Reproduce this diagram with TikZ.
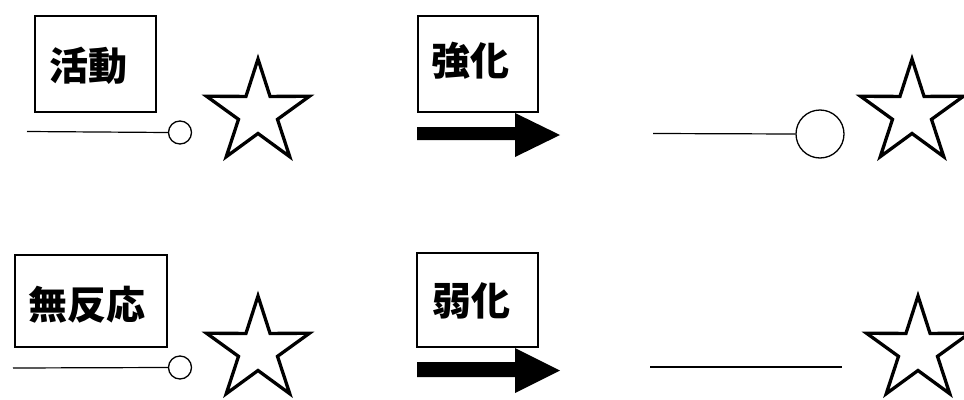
\documentclass[tikz,border=0pt]{standalone}
\usepackage{fontspec}
\newfontfamily\jp{Noto Sans CJK JP}
\begin{document}
\begin{tikzpicture}[x=1pt,y=-1pt,
  boxstyle/.style={draw=black,line width=1.5pt,fill=white,inner sep=0pt},
  lbl/.style={font=\jp\bfseries\fontsize{39}{39}\selectfont,inner sep=0pt},
  thin/.style={line width=1.2pt},
  ring/.style={draw,circle,line width=1.3pt,inner sep=0pt,fill=white},
  starline/.style={line width=3.3pt,line join=miter},
  bigarrow/.style={fill=black,draw=none}]
\clip (0,0) rectangle (964,399);
\fill[white] (0,0) rectangle (964,399);
\newcommand{\drawstar}[1]{%
  \draw[starline] ([shift={(270:54)}]#1)
  -- ([shift={(234:20.5)}]#1) -- ([shift={(198:54)}]#1)
  -- ([shift={(162:20.5)}]#1) -- ([shift={(126:54)}]#1)
  -- ([shift={(90:20.5)}]#1) -- ([shift={(54:54)}]#1)
  -- ([shift={(18:20.5)}]#1) -- ([shift={(342:54)}]#1)
  -- ([shift={(306:20.5)}]#1) -- cycle;}
% box 1
\node[boxstyle,minimum width=121pt,minimum height=96pt] (b1) at (95.5,64) {};
\node[lbl] (t1) at (88,66) {活動};
\coordinate (l1s) at (27,131.5);
\node[ring,minimum size=23pt] (c1) at (180,132.5) {};
\draw[thin] (l1s) -- (c1.west);
\coordinate (s1) at (258,113);
\drawstar{s1}
% box 2
\node[boxstyle,minimum width=120pt,minimum height=96pt] (b2) at (478,64) {};
\node[lbl] (t2) at (470,61) {強化};
\coordinate (a1e) at (560,135);
\fill[bigarrow] (417,127) -- (515,127) -- (515,113) -- (a1e) -- (515,157) -- (515,140) -- (417,140) -- cycle;
% top right
\coordinate (l2s) at (653,133.5);
\node[ring,minimum size=48pt] (c2) at (820,134) {};
\draw[thin] (l2s) -- (c2.west);
\coordinate (s2) at (912,113);
\drawstar{s2}
% box 3
\node[boxstyle,minimum width=152pt,minimum height=92pt] (b3) at (91,301) {};
\node[lbl] (t3) at (86.5,305) {無反応};
\coordinate (l3s) at (13,368);
\node[ring,minimum size=23pt] (c3) at (180,367.5) {};
\draw[thin] (l3s) -- (c3.west);
\coordinate (s3) at (258,350);
\drawstar{s3}
% box 4
\node[boxstyle,minimum width=121pt,minimum height=94pt] (b4) at (477.5,300) {};
\node[lbl] (t4) at (471.5,301) {弱化};
\coordinate (a2e) at (560,370.5);
\fill[bigarrow] (417,362) -- (515,362) -- (515,348) -- (a2e) -- (515,393) -- (515,377) -- (417,377) -- cycle;
% bottom right
\coordinate (l4s) at (650,367);
\coordinate (l4e) at (842,367);
\draw[line width=1.6pt] (l4s) -- (l4e);
\coordinate (s4) at (918,350);
\drawstar{s4}
\end{tikzpicture}
\end{document}
